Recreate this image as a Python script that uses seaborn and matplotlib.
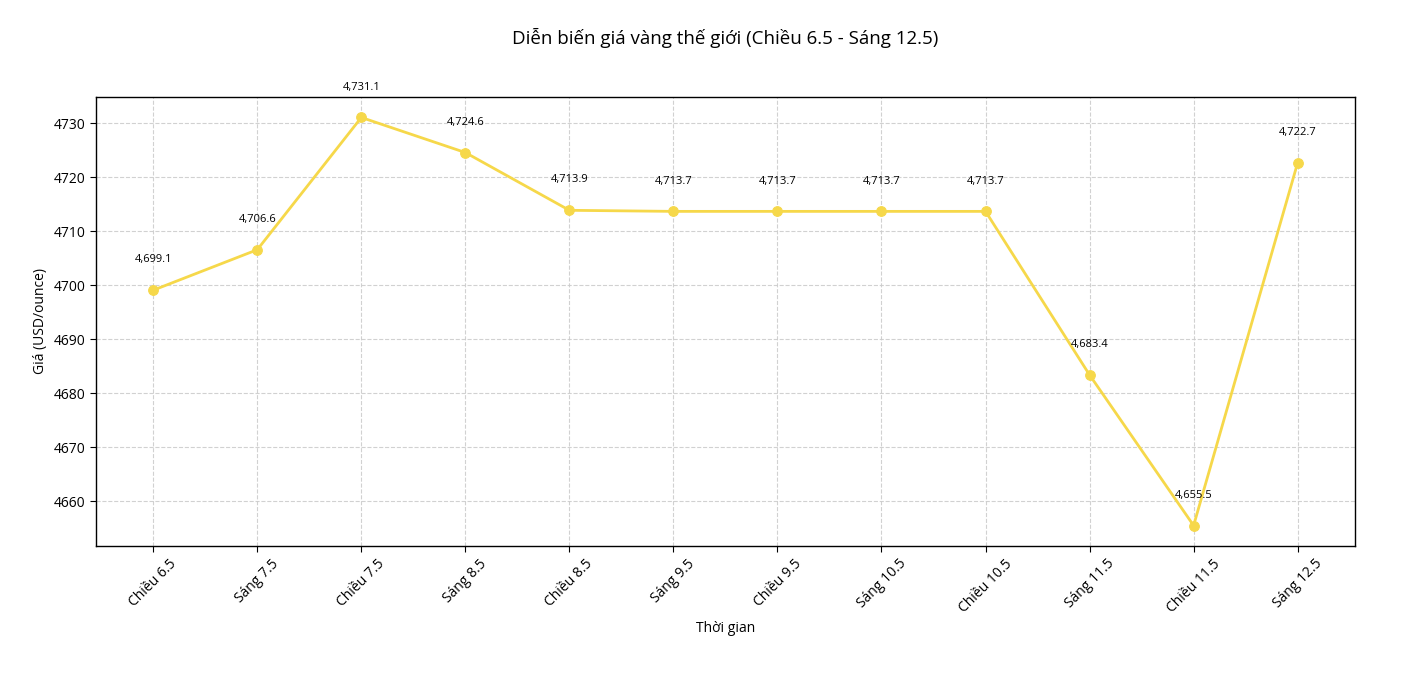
import matplotlib
matplotlib.use("Agg")
import matplotlib.pyplot as plt
import seaborn as sns
import pandas as pd

times = ["Chiều 6.5", "Sáng 7.5", "Chiều 7.5", "Sáng 8.5", "Chiều 8.5", "Sáng 9.5",
         "Chiều 9.5", "Sáng 10.5", "Chiều 10.5", "Sáng 11.5", "Chiều 11.5", "Sáng 12.5"]
prices = [4699.1, 4706.6, 4731.1, 4724.6, 4713.9, 4713.7,
          4713.7, 4713.7, 4713.7, 4683.4, 4655.5, 4722.7]

df = pd.DataFrame({"Thời gian": times, "Giá": prices})

sns.set_style("white")
plt.rcParams['font.family'] = ['Open Sans', 'DejaVu Sans']
plt.rcParams['text.color'] = 'black'
plt.rcParams['axes.labelcolor'] = 'black'
plt.rcParams['xtick.color'] = 'black'
plt.rcParams['ytick.color'] = 'black'

fig, ax = plt.subplots(figsize=(14.04, 6.74), dpi=100)
fig.subplots_adjust(left=0.0684, right=0.965, top=0.856, bottom=0.19)

color = "#F6D84A"
sns.lineplot(data=df, x="Thời gian", y="Giá", ax=ax, color=color, linewidth=2,
             marker="o", markersize=7, markeredgecolor=color, sort=False)

for i, v in enumerate(prices):
    ax.text(i, v + 4.6, f"{v:,.1f}", ha="center", va="bottom", fontsize=8, color="black")

ax.grid(True, linestyle="--", color="#cccccc", linewidth=0.8, alpha=0.9)
for s in ax.spines.values():
    s.set_color("black")
    s.set_linewidth(1)
ax.tick_params(axis="both", which="both", length=4, color="black", labelsize=10, left=True, bottom=True)
plt.setp(ax.get_xticklabels(), rotation=45)
ax.set_xlabel("Thời gian", fontsize=10)
ax.set_ylabel("Giá (USD/ounce)", fontsize=10)
ax.set_title("Diễn biến giá vàng thế giới (Chiều 6.5 - Sáng 12.5)", fontsize=13.5, pad=38, color="black")
ax.margins(x=0.05, y=0.05)

fig.savefig("out.png", dpi=100, facecolor="white")
